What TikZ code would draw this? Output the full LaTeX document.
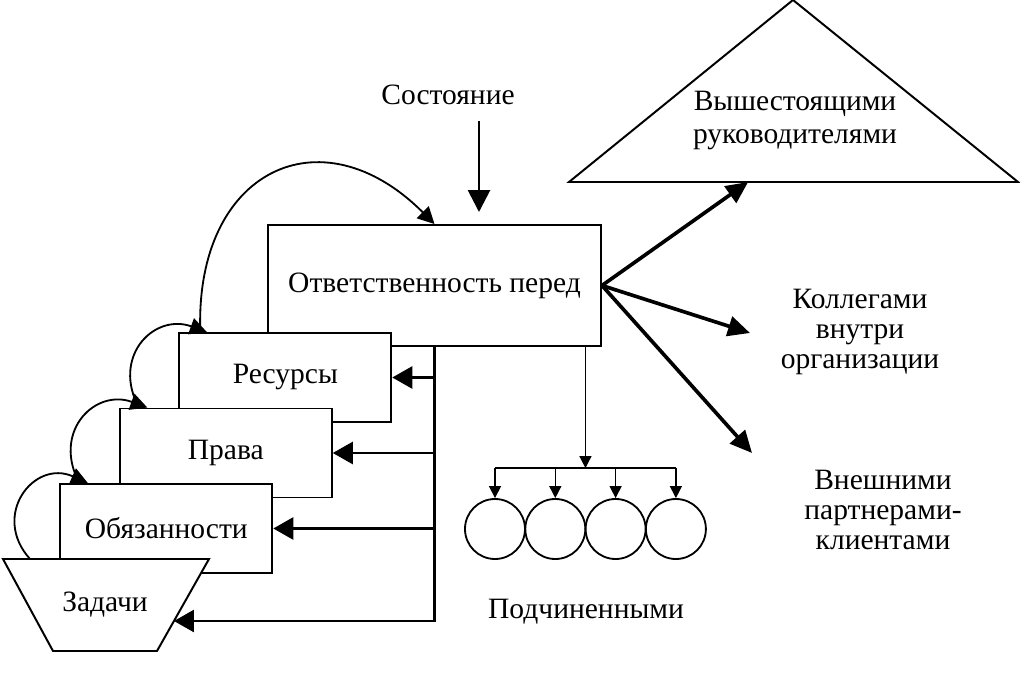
\documentclass[tikz,border=0pt]{standalone}
\usepackage{fontspec}
\setmainfont{Liberation Serif}
\usetikzlibrary{arrows.meta,calc,positioning}

\begin{document}
\begin{tikzpicture}[
    x=0.25mm, y=0.25mm,
    font=\fontsize{21}{21.5}\selectfont,
    box/.style={draw=black, line width=1.4pt, fill=white, inner sep=0pt},
    sidebox/.style={box, minimum width=53mm, minimum height=22.25mm},
    sub/.style={draw=black, line width=1.3pt, circle, minimum size=15mm, inner sep=0pt},
    bus/.style={line width=1.8pt, -{Triangle[length=5mm,width=5.5mm]}},
    fat/.style={line width=2.6pt, -{Triangle[length=5.5mm,width=5mm]}},
    curve/.style={line width=1.3pt, -{Triangle[length=4.2mm,width=4.2mm]}},
    thin/.style={line width=1pt, -{Triangle[length=3mm,width=3mm]}}, ]

    \useasboundingbox (0,0) rectangle (1020,-677);

    % main box and the steps below it
    \node[box, minimum width=83.25mm, minimum height=30.25mm] (main) at (434.5,-285.5) {Ответственность перед};

\foreach \name/\txt [count=\i from 0] in {res/Ресурсы, prava/Права, obyaz/Обязанности}
{
    \node[sidebox] (\name) at ({285.3-59.5*\i},{-377.5-75.5*\i}) {\txt};
    \coordinate (\name-in) at ($(\name.north west)+(28.5,0)$);
    \coordinate (\name-out) at ($(\name.north west)+(18,4)$);
}

    \coordinate (tq-nw) at (3,-559);
    \coordinate (tq-ne) at (209,-559);
    \coordinate (tq-se) at (157,-651);
    \coordinate (tq-sw) at (53,-651);
    \draw[line width=1.4pt, fill=white] (tq-nw) -- (tq-ne) -- (tq-se) -- (tq-sw) -- cycle;
    \node (tasks) at (105,-605) {Задачи};
    \coordinate (tq-in) at ($(tq-ne)!0.674!(tq-se)$);

    \draw[curve] ($(tq-nw)+(27,0)$) to[out=132,in=156,looseness=1.58] (obyaz-in);
    \draw[curve] (obyaz-out) to[out=115,in=160,looseness=1.4] (prava-in);
    \draw[curve] (prava-out) to[out=115,in=160,looseness=1.4] (res-in);
    \draw[curve] ($(res.north west)+(22,0)$) to[out=92,in=135,looseness=1.6] (main.north);

    % feedback bus
    \draw[bus] (main.south) |- (tq-in);
\foreach \name in {res,prava,obyaz}
    \draw[bus] (main.south |- \name.east) -- (\name.east);

    \node (state) at (448,-95) {Состояние};
    \draw[line width=2pt, -{Triangle[length=5.5mm,width=5.5mm]}] ($(main.north)+(44.5,103)$) -- ($(main.north)+(44.5,12)$);

    % upward and sideways
    \coordinate (tr-top) at (793,0);
    \coordinate (tr-l) at (569,-182);
    \coordinate (tr-r) at (1018,-182);
    \draw[line width=1.4pt] (tr-l) -- (tr-top) -- (tr-r) -- cycle;
    \node[align=center, font=\fontsize{21}{23.5}\selectfont] (chiefs) at (795,-121) {Вышестоящими\\руководителями};
    \node[align=center] (coll) at (860,-332) {Коллегами\\внутри\\организации};
    \node[align=center] (ext) at (883,-510) {Внешними\\партнерами-\\клиентами};
    \coordinate (to-coll) at (750,-333);
    \coordinate (to-ext) at (752,-453);

    \draw[fat] (main.east) -- ($(tr-l)!0.399!(tr-r)$);
    \draw[fat] (main.east) -- (to-coll);
    \draw[fat] (main.east) -- (to-ext);

    % subordinates
\foreach \i in {1,...,4}
    \node[sub] (c\i) at ({434.7+60.3*\i},-529) {};

    \coordinate (bar) at ($(c2.north)!0.5!(c3.north)+(0,30)$);
    \draw[thin] (main.south -| bar) -- (bar);
    \draw[line width=1pt] (c1.north |- bar) -- (c4.north |- bar);
\foreach \i in {1,...,4}
    \draw[thin] (c\i.north |- bar) -- (c\i.north);

    \node (subs) at (586,-612) {Подчиненными};

\end{tikzpicture}
\end{document}
